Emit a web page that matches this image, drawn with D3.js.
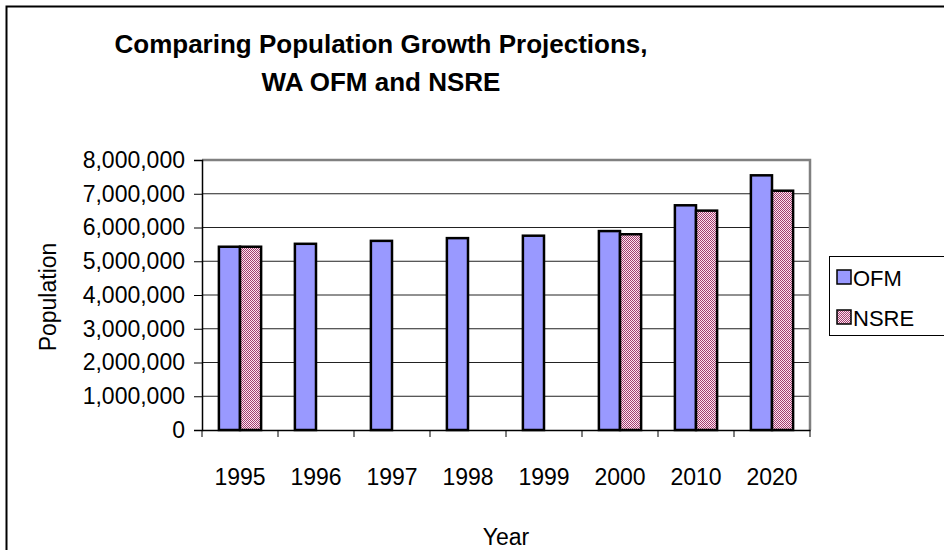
<!DOCTYPE html>
<html>
<head>
<meta charset="utf-8">
<script src="https://cdn.jsdelivr.net/npm/d3@7"></script>
<style>
  body { margin: 0; background: #fff; }
  svg text { font-family: "Liberation Sans", Arial, sans-serif; fill: #000; }
</style>
</head>
<body>
<div class="chart"></div>
<script>
// data
const years = ['1995', '1996', '1997', '1998', '1999', '2000', '2010', '2020'];
const ofm = [5430000, 5517000, 5604000, 5685000, 5757000, 5894000, 6658000, 7546000];
const nsre = [5430000, null, null, null, null, 5800000, 6500000, 7090000];
const seriesNames = ['OFM', 'NSRE'];
const yTicks = [0, 1000000, 2000000, 3000000, 4000000, 5000000, 6000000, 7000000, 8000000];

let margin = { top: 160, right: 134, bottom: 120, left: 202 },
    W = 944, H = 550,
    width = W - margin.left - margin.right,
    height = H - margin.top - margin.bottom;

let svg = d3.select('.chart').append('svg')
    .attr('width', W)
    .attr('height', H);

let defs = svg.append('defs');
let pat = defs.append('pattern')
    .attr('id', 'nsreFill')
    .attr('patternUnits', 'userSpaceOnUse')
    .attr('width', 2).attr('height', 2);
pat.append('rect').attr('width', 2).attr('height', 2).attr('fill', '#ffe4f0');
pat.append('rect').attr('width', 1).attr('height', 1).attr('fill', '#a04070');
pat.append('rect').attr('x', 1).attr('y', 1).attr('width', 1).attr('height', 1).attr('fill', '#a04070');

const fills = { OFM: '#9999ff', NSRE: 'url(#nsreFill)' };

// chart frame (runs off the right and bottom edges)
svg.append('rect')
    .attr('x', 6.5).attr('y', 6.5)
    .attr('width', W + 10).attr('height', H + 10)
    .attr('fill', 'none').attr('stroke', '#000').attr('stroke-width', 2);

// title
let title = svg.append('text')
    .attr('text-anchor', 'middle')
    .style('font-size', '26px')
    .style('font-weight', 'bold');
title.append('tspan').attr('x', 381).attr('y', 53).text('Comparing Population Growth Projections,');
title.append('tspan').attr('x', 381).attr('y', 91).text('WA OFM and NSRE');

let x0 = d3.scaleBand().domain(years).range([0, width]).padding(0);
let x1 = d3.scaleBand().domain(seriesNames).range([0, x0.bandwidth()]).paddingInner(0).paddingOuter(0.8);
let y = d3.scaleLinear().domain([0, 8000000]).range([height, 0]);

let g = svg.append('g').attr('transform', 'translate(' + margin.left + ',' + margin.top + ')');

// gridlines
g.append('g').selectAll('line')
    .data(yTicks.slice(1))
    .enter().append('line')
    .attr('x1', 0).attr('x2', width)
    .attr('y1', d => y(d)).attr('y2', d => y(d))
    .attr('stroke', '#222').attr('stroke-width', 1);

// plot area border (top, right)
g.append('path')
    .attr('d', 'M0,' + y(8000000) + 'H' + width + 'V' + height)
    .attr('fill', 'none').attr('stroke', '#808080').attr('stroke-width', 2.5);

let rows = years.map((yr, i) => ({ year: yr, OFM: ofm[i], NSRE: nsre[i] }));

let groups = g.selectAll('.grp')
    .data(rows)
    .enter().append('g')
    .attr('class', 'grp')
    .attr('transform', d => 'translate(' + x0(d.year) + ',0)');

groups.selectAll('rect')
    .data(d => seriesNames.filter(s => d[s] != null).map(s => ({ key: s, value: d[s] })))
    .enter().append('rect')
    .attr('x', d => x1(d.key))
    .attr('width', x1.bandwidth())
    .attr('y', d => y(d.value))
    .attr('height', d => height - y(d.value))
    .attr('fill', d => fills[d.key])
    .attr('stroke', '#000').attr('stroke-width', 2.5);

// axes
let yAxis = d3.axisLeft(y).tickValues(yTicks).tickSize(8).tickPadding(9)
    .tickFormat(d3.format(','));
let yG = g.append('g').call(yAxis);
yG.select('.domain').attr('stroke-width', 1.5);
yG.selectAll('text').style('font-size', '23px');

let xAxis = d3.axisBottom(x0).tickSize(0).tickPadding(0).tickFormat('');
let xG = g.append('g').attr('transform', 'translate(0,' + height + ')').call(xAxis);
xG.select('.domain').attr('stroke-width', 1.5);
xG.selectAll('.tick').remove();
xG.selectAll('.sep')
    .data(years.map(d => x0(d)).concat([width]))
    .enter().append('line')
    .attr('x1', d => d).attr('x2', d => d)
    .attr('y1', 0).attr('y2', 7)
    .attr('stroke', '#000');
xG.selectAll('.lbl')
    .data(years)
    .enter().append('text')
    .attr('x', d => x0(d) + x0.bandwidth() / 2)
    .attr('y', 55)
    .attr('text-anchor', 'middle')
    .style('font-size', '23px')
    .text(d => d);

// axis titles
svg.append('text')
    .attr('transform', 'translate(56,297) rotate(-90)')
    .attr('text-anchor', 'middle')
    .style('font-size', '23px')
    .text('Population');
svg.append('text')
    .attr('x', 506).attr('y', 545)
    .attr('text-anchor', 'middle')
    .style('font-size', '23px')
    .text('Year');

// legend
let leg = svg.append('g').attr('transform', 'translate(829,256)');
leg.append('rect')
    .attr('x', 0.5).attr('y', 0.5)
    .attr('width', 130).attr('height', 79)
    .attr('fill', '#fff').attr('stroke', '#000');
let li = leg.selectAll('.li')
    .data(seriesNames)
    .enter().append('g')
    .attr('transform', (d, i) => 'translate(8,' + (14 + i * 40) + ')');
li.append('rect')
    .attr('width', 14).attr('height', 14)
    .attr('fill', d => fills[d])
    .attr('stroke', '#000').attr('stroke-width', 1.5);
li.append('text')
    .attr('x', 16).attr('y', 16)
    .style('font-size', '22px')
    .text(d => d);
</script>
</body>
</html>
